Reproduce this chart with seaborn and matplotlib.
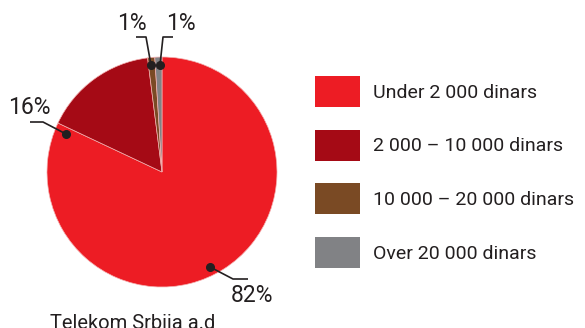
import matplotlib
matplotlib.use("Agg")
import matplotlib.pyplot as plt
import seaborn as sns

# Revenue bands of Telekom Srbija subscribers (share of users, %)
categories = ["Under 2 000 dinars", "2 000 – 10 000 dinars",
              "10 000 – 20 000 dinars", "Over 20 000 dinars"]
shares = [82, 16, 1, 1]
colors = ["#ED1C24", "#A50A15", "#7A4A24", "#818285"]
chart_title = "Telekom Srbija a.d"

sns.set_theme(style="white")
plt.rcParams["font.family"] = ["Roboto", "DejaVu Sans"]
TEXT = "#231F20"

W, H = 585, 328
fig = plt.figure(figsize=(W / 100, H / 100), dpi=100)
ax = fig.add_axes([0, 0, 1, 1])


def px(x, y):
    """Pixel position measured from the top-left corner -> data coords."""
    return x, H - y


cx, cy = px(162, 172)
R = 115
wedges, _ = ax.pie(shares, colors=colors, startangle=90, counterclock=False,
                   center=(cx, cy), radius=R,
                   wedgeprops=dict(linewidth=0.5, edgecolor="#f4b0b0"))
ax.set_xlim(0, W)
ax.set_ylim(0, H)
ax.set_aspect("equal")
ax.axis("off")

# value callouts: dot on the pie, elbow, end of the leader, text centre
callouts = [
    (1, (66, 134), (43, 122), (30, 122), (29, 108)),
    (2, (151, 65), (146, 37), (136, 37), (132, 24)),
    (3, (160, 65), (163, 37), (173, 37), (181, 24)),
    (0, (210, 267), (233, 279), (248, 279), (252, 296)),
]
for idx, dot, elbow, end, txt in callouts:
    xs, ys = zip(*[px(*p) for p in (dot, elbow, end)])
    ax.plot(xs, ys, color=TEXT, lw=1.2, solid_capstyle="butt", zorder=5)
    ax.plot(*px(*dot), "o", color=TEXT, ms=5.5, zorder=6)
    ax.text(*px(*txt), f"{shares[idx]}%", ha="center", va="center",
            fontsize=16.5, color=TEXT, zorder=6)

ax.text(*px(133, 329), chart_title, ha="center", va="baseline",
        fontsize=14.5, color=TEXT)

fs = 14
fpx = fs * 100 / 72
leg = ax.legend(wedges, categories, loc="upper left",
                bbox_to_anchor=px(315, 76), bbox_transform=ax.transData,
                frameon=False, fontsize=fs, borderpad=0, borderaxespad=0,
                handlelength=45 / fpx, handleheight=2.07,
                handletextpad=13 / fpx, labelspacing=1.17)
for t in leg.get_texts():
    t.set_color(TEXT)
for h in leg.legend_handles:
    h.set_edgecolor("none")

fig.savefig("out.png", dpi=100)
